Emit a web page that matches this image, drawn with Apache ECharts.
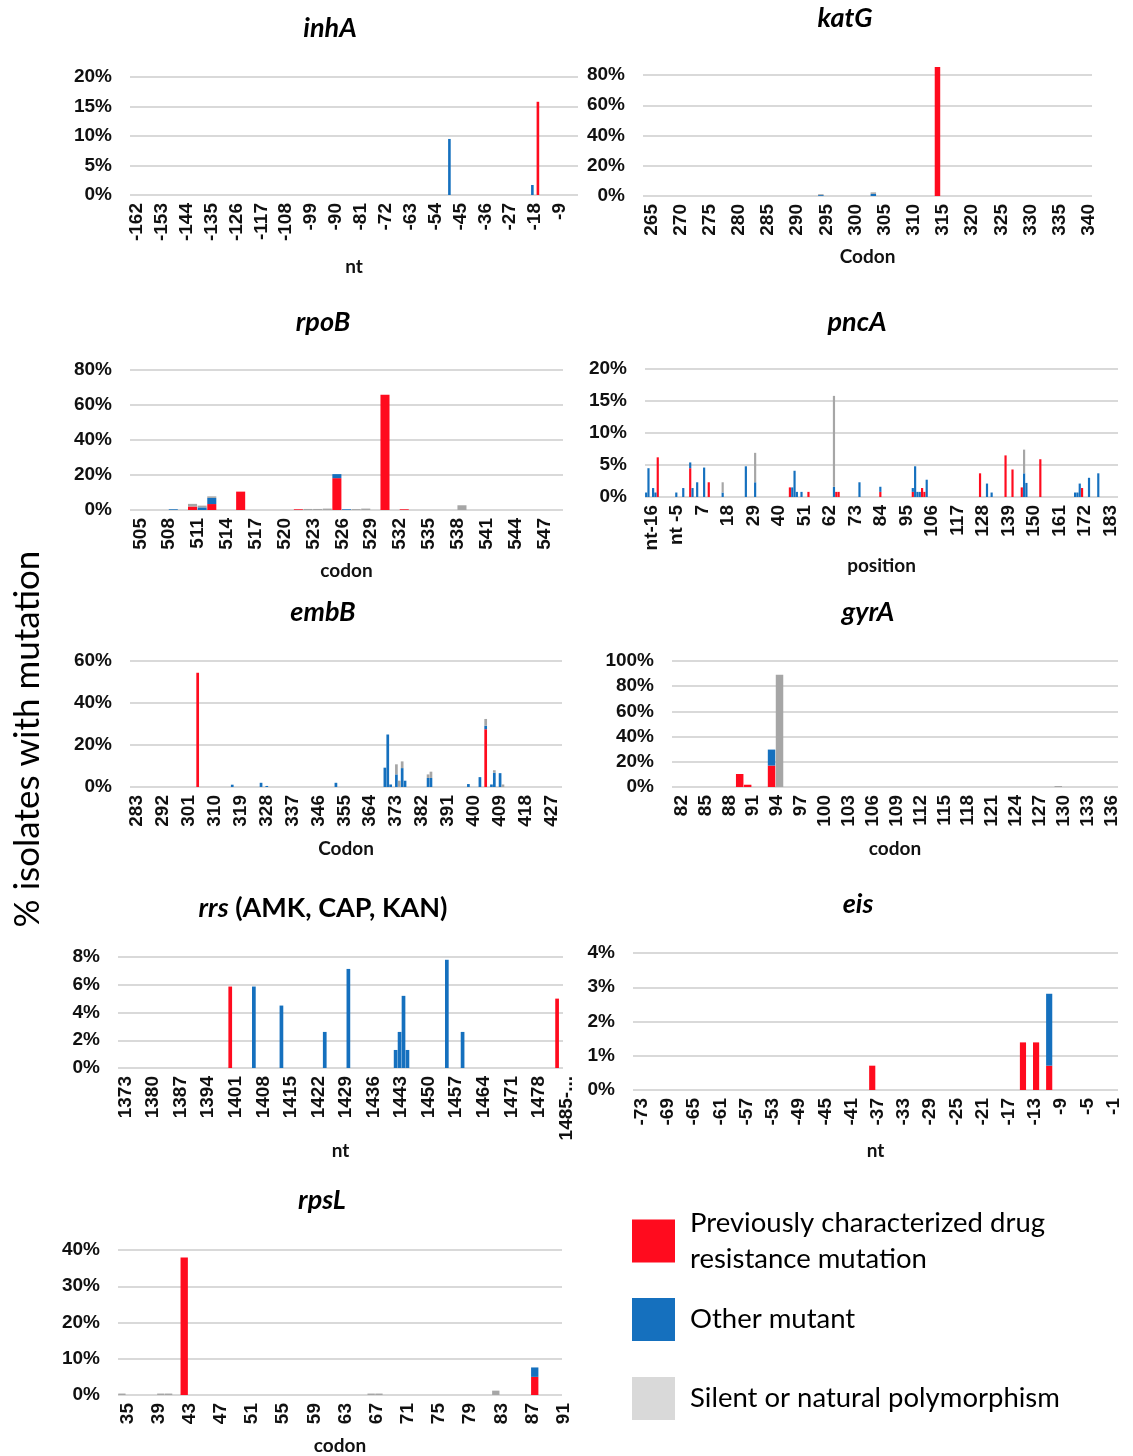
<!DOCTYPE html>
<html>
<head>
<meta charset="utf-8">
<script src="https://cdn.jsdelivr.net/npm/echarts@6/dist/echarts.min.js"></script>
<style>
    html, body {margin: 0; padding: 0; background: #fff;}
    #main {width: 1133px; height: 1456px;}
</style>
</head>
<body>
<div id="main"></div>
<script>
function range(a, b) {
    var r = [];
    for (var i = a; i <= b; i++) r.push(i);
    return r
}

// categories (x axis)
var inhA_cats = range(-162, -1);
var katG_cats = range(265, 341);
var rpoB_cats = range(505, 549);
var pncA_promoter = ['nt-16', 'nt-15', 'nt-14', 'nt-13', 'nt-12', 'nt-11', 'nt-10', 'nt-9',
    'nt-8', 'nt-7', 'nt-6', 'nt -5', 'nt-4', 'nt-3', 'nt-2', 'nt-1'];
var pncA_cats = pncA_promoter.concat(range(1, 188));
var embB_cats = range(283, 432);
var gyrA_cats = range(82, 137);
var rrs_cats = range(1373, 1484).concat(['1485-...']);
var eis_cats = range(-73, 0);
var rpsL_cats = range(35, 91);

// [position, % isolates]
var inhA_red = [[-15, 15.8]];
var inhA_blue = [[-47, 9.5], [-17, 1.7]];
var inhA_gray = [];

var katG_red = [[315, 85.3]];
var katG_blue = [[295, 0.6], [304, 1.4]];
var katG_gray = [[295, 0.6], [304, 1.0]];

var rpoB_red = [[511, 2.0], [513, 3.4], [516, 10.5], [522, 0.4], [526, 18.2], [531, 65.8], [533, 0.4]];
var rpoB_blue = [[509, 0.4], [512, 1.5], [513, 3.5], [526, 2.3], [527, 0.4]];
var rpoB_gray = [[511, 1.5], [512, 1.0], [513, 0.9], [523, 0.6], [524, 0.6], [525, 0.8], [528, 0.5], [529, 0.8], [539, 2.7]];

var pncA_red = [['nt-11', 6.2], [4, 4.5], [12, 2.3], [47, 1.5], [55, 0.8], [67, 0.8], [68, 0.8], [86, 0.8],
    [100, 0.8], [104, 1.4], [105, 0.8], [129, 3.7], [140, 6.5], [143, 4.3], [147, 1.5], [155, 5.9], [173, 1.4]];
var pncA_blue = [['nt-16', 0.7], ['nt-15', 4.5], ['nt-13', 1.4], ['nt-12', 0.7], ['nt-3', 0.7], [1, 1.4], [4, 0.9],
    [5, 1.4], [7, 2.3], [10, 4.6], [18, 0.7], [28, 4.8], [32, 2.3], [48, 1.5], [49, 4.1], [50, 0.8], [52, 0.8],
    [66, 1.6], [77, 2.3], [86, 0.8], [100, 0.6], [101, 4.8], [102, 0.8], [103, 0.8], [106, 2.7], [132, 2.1],
    [134, 0.7], [148, 3.7], [149, 2.2], [170, 0.7], [171, 0.7], [172, 2.1], [176, 3.0], [180, 3.7]];
var pncA_gray = [[18, 1.6], [32, 4.6], [66, 14.2], [148, 3.7]];

var embB_red = [[306, 54.4], [406, 27.5]];
var embB_blue = [[318, 1.1], [328, 2.0], [330, 0.5], [354, 2.0], [371, 9.2], [372, 25.0], [373, 1.2], [375, 6.0],
    [377, 9.0], [378, 3.0], [386, 4.3], [387, 4.3], [400, 1.4], [404, 4.7], [406, 1.7], [408, 1.2], [409, 6.8], [411, 6.6]];
var embB_gray = [[375, 4.8], [376, 3.0], [377, 3.2], [386, 1.7], [387, 3.0], [406, 3.2], [409, 1.2], [412, 1.2]];

var gyrA_red = [[90, 10.3], [91, 1.8], [94, 17.0]];
var gyrA_blue = [[94, 12.7]];
var gyrA_gray = [[95, 89.0], [130, 0.8]];

var rrs_red = [[1401, 5.87], [1484, 5.0]];
var rrs_blue = [[1407, 5.87], [1414, 4.5], [1425, 2.6], [1431, 7.14], [1443, 1.3], [1444, 2.6], [1445, 5.2],
    [1446, 1.3], [1456, 7.8], [1460, 2.6]];
var rrs_gray = [];

var eis_red = [[-37, 0.71], [-14, 1.39], [-12, 1.39], [-10, 0.71]];
var eis_blue = [[-10, 2.1]];
var eis_gray = [];

var rpsL_red = [[43, 37.9], [88, 5.0]];
var rpsL_blue = [[88, 2.6]];
var rpsL_gray = [[35, 0.4], [40, 0.4], [41, 0.4], [67, 0.4], [68, 0.4], [83, 1.2]];

var NAMES = {
    red: 'Previously characterized drug resistance mutation',
    blue: 'Other mutant',
    gray: 'Silent or natural polymorphism'
};
var COLORS = {red: '#ff0b1e', blue: '#1570be', gray: '#a6a6a6'};

var panels = [
    {title: 'inhA', cats: inhA_cats, red: inhA_red, blue: inhA_blue, gray: inhA_gray, yMax: 20, yStep: 5, every: 9,
        xName: 'nt', nameGap: 62, pos: [330, 28], grid: {left: 130, top: 77, width: 448, height: 118}},
    {title: 'katG', cats: katG_cats, red: katG_red, blue: katG_blue, gray: katG_gray, yMax: 80, yStep: 20, every: 5,
        xName: 'Codon', nameGap: 51, pos: [845, 18], grid: {left: 643, top: 75, width: 449, height: 121}},
    {title: 'rpoB', cats: rpoB_cats, red: rpoB_red, blue: rpoB_blue, gray: rpoB_gray, yMax: 80, yStep: 20, every: 3,
        xName: 'codon', nameGap: 51, pos: [323, 322], grid: {left: 130, top: 370, width: 433, height: 140}},
    {title: 'pncA', cats: pncA_cats, red: pncA_red, blue: pncA_blue, gray: pncA_gray, yMax: 20, yStep: 5, every: 11,
        xName: 'position', nameGap: 59, pos: [857, 322], grid: {left: 645, top: 369, width: 473, height: 128}},
    {title: 'embB', cats: embB_cats, red: embB_red, blue: embB_blue, gray: embB_gray, yMax: 60, yStep: 20, every: 9,
        xName: 'Codon', nameGap: 52, pos: [323, 612], grid: {left: 130, top: 661, width: 432, height: 126}},
    {title: 'gyrA', cats: gyrA_cats, red: gyrA_red, blue: gyrA_blue, gray: gyrA_gray, yMax: 100, yStep: 20, every: 3,
        xName: 'codon', nameGap: 52, pos: [868, 612], grid: {left: 672, top: 661, width: 446, height: 126}},
    {title: 'rrs', suffix: ' (AMK, CAP, KAN)', cats: rrs_cats, red: rrs_red, blue: rrs_blue, gray: rrs_gray, yMax: 8, yStep: 2, every: 7,
        xName: 'nt', nameGap: 73, pos: [323, 908], grid: {left: 118, top: 957, width: 445, height: 111}},
    {title: 'eis', cats: eis_cats, red: eis_red, blue: eis_blue, gray: eis_gray, yMax: 4, yStep: 1, every: 4,
        xName: 'nt', nameGap: 51, pos: [858, 904], grid: {left: 633, top: 953, width: 485, height: 137}},
    {title: 'rpsL', cats: rpsL_cats, red: rpsL_red, blue: rpsL_blue, gray: rpsL_gray, yMax: 40, yStep: 10, every: 4,
        xName: 'codon', nameGap: 41, pos: [322, 1200], grid: {left: 118, top: 1250, width: 444, height: 145}}
];

function fill(cats, pairs) {
    var out = cats.map(function () { return 0 });
    pairs.forEach(function (p) {
        var i = cats.indexOf(p[0]);
        if (i >= 0) out[i] = p[1];
    });
    return out
}

var grids = [], xAxes = [], yAxes = [], series = [], graphics = [];
var titleFont = {fontFamily: 'Lato', fontWeight: 'bold', fontSize: 27, fill: '#000'};

panels.forEach(function (p, i) {
    grids.push({left: p.grid.left, top: p.grid.top, width: p.grid.width, height: p.grid.height,
        containLabel: false, outerBoundsMode: 'none'});
    xAxes.push({
        type: 'category',
        gridIndex: i,
        data: p.cats,
        axisLine: {show: false},
        axisTick: {show: false},
        axisLabel: {
            interval: p.every - 1, rotate: 90, margin: 8,
            verticalAlign: 'top', lineHeight: 11,   // nudge rotated labels a little right, like Excel
            fontFamily: 'Liberation Sans', fontWeight: 'bold', fontSize: 19, color: '#111'
        },
        name: p.xName,
        nameLocation: 'middle',
        nameGap: p.nameGap,
        nameMoveOverlap: false,
        nameTextStyle: {fontFamily: 'Lato', fontWeight: 'bold', fontSize: 19, color: '#111'}
    });
    yAxes.push({
        type: 'value',
        gridIndex: i,
        min: 0, max: p.yMax, interval: p.yStep,
        axisLine: {show: false},
        axisTick: {show: false},
        axisLabel: {formatter: '{value}%', margin: 18,
            fontFamily: 'Liberation Sans', fontWeight: 'bold', fontSize: 19, color: '#111'},
        splitLine: {lineStyle: {color: '#d9d9d9', width: 2}}
    });
    ['red', 'blue', 'gray'].forEach(function (k) {
        series.push({
            name: NAMES[k],
            type: 'bar',
            xAxisIndex: i,
            yAxisIndex: i,
            stack: 'p' + i,
            data: fill(p.cats, p[k]),
            itemStyle: {color: COLORS[k]},
            barCategoryGap: '6%',
            clip: false,
            silent: true
        });
    });
    var style = {text: p.title, align: 'center', verticalAlign: 'middle', fontStyle: 'italic'};
    if (p.suffix) {
        style = {
            text: '{i|' + p.title + '}{n|' + p.suffix + '}', align: 'center', verticalAlign: 'middle',
            rich: {i: Object.assign({fontStyle: 'italic'}, titleFont), n: Object.assign({fontStyle: 'normal'}, titleFont)}
        };
    }
    graphics.push({type: 'text', x: p.pos[0], y: p.pos[1], style: Object.assign({}, titleFont, style)});
});

graphics.push({
    type: 'text', x: 28, y: 739, rotation: Math.PI / 2,
    style: {text: '% isolates with mutation', align: 'center', verticalAlign: 'middle',
        fontFamily: 'Lato', fontSize: 35, fill: '#000'}
});

function legendBox(key, top, color) {
    return {
        data: [{name: NAMES[key], itemStyle: {color: color}}],
        orient: 'vertical',
        left: 632,
        top: top,
        padding: 0,
        icon: 'rect',
        itemWidth: 43,
        itemHeight: 43,
        selectedMode: false,
        formatter: function (name) {
            return name.replace(' drug ', ' drug\n')
        },
        textStyle: {fontFamily: 'Lato', fontSize: 27.5, lineHeight: 36, color: '#000', padding: [0, 0, 0, 10]}
    }
}

var chart = echarts.init(document.getElementById('main'));
chart.setOption({
    backgroundColor: '#fff',
    animation: false,
    grid: grids,
    xAxis: xAxes,
    yAxis: yAxes,
    series: series,
    graphic: graphics,
    legend: [
        legendBox('red', 1205, COLORS.red),
        legendBox('blue', 1298, COLORS.blue),
        legendBox('gray', 1377, '#d9d9d9')
    ]
});
</script>
</body>
</html>
